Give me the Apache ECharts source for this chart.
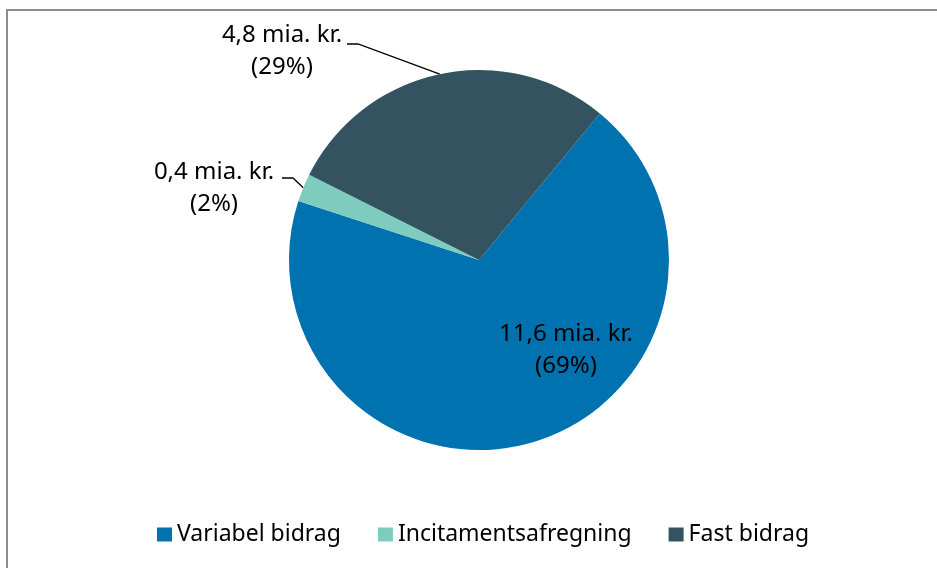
<!DOCTYPE html>
<html>
<head>
<meta charset="utf-8">
<script src="https://cdn.jsdelivr.net/npm/echarts@6/dist/echarts.min.js"></script>
<style>
html,body{margin:0;padding:0;background:#fff;}
#chart{width:937px;height:568px;}
</style>
</head>
<body>
<div id="chart"></div>
<script>
// Data
const categories = ['Variabel bidrag', 'Incitamentsafregning', 'Fast bidrag'];
const values = [11.6, 0.4, 4.8];
const colors = ['#0072B0', '#7ECCBD', '#32535F'];

// Label placement (annotation layout only)
const labelPlacement = [
  { x: 566, y: 350, line: null },
  { x: 214, y: 188, line: [[293, 178], [282, 178]] },
  { x: 282, y: 51, line: [[358, 44], [347, 44]] }
];

function fmtVal(v) { return v.toFixed(1).replace('.', ','); }

const chart = echarts.init(document.getElementById('chart'));
chart.setOption({
  backgroundColor: '#fff',
  animation: false,
  color: colors,
  graphic: [
    { type: 'line', shape: { x1: 6, y1: 10, x2: 937, y2: 10 }, style: { stroke: '#8C8C8C', lineWidth: 2 } },
    { type: 'line', shape: { x1: 7, y1: 9, x2: 7, y2: 568 }, style: { stroke: '#8C8C8C', lineWidth: 2 } }
  ],
  legend: {
    data: categories,
    left: 152,
    top: 518,
    icon: 'rect',
    itemWidth: 15,
    itemHeight: 14,
    itemGap: 37,
    textStyle: { fontFamily: '"Noto Sans", sans-serif', fontSize: 23, color: '#000' }
  },
  series: [{
    type: 'pie',
    center: [479, 260],
    radius: 190,
    startAngle: 50.5,
    clockwise: true,
    percentPrecision: 0,
    data: categories.map((c, i) => ({
      name: c,
      value: values[i],
      label: i === 0 ? { position: 'inside' } : { position: 'outside' },
      labelLine: { show: i !== 0 }
    })),
    label: {
      show: true,
      formatter: p => fmtVal(p.value) + ' mia. kr.\n(' + p.percent + '%)',
      fontFamily: '"Noto Sans", sans-serif',
      fontSize: 24,
      lineHeight: 32,
      color: '#000',
      align: 'center'
    },
    labelLine: {
      show: true,
      length: 10,
      length2: 10,
      lineStyle: { color: '#000', width: 1.3 }
    },
    labelLayout: function (params) {
      const pl = labelPlacement[params.dataIndex];
      const out = { x: pl.x, y: pl.y, align: 'center', verticalAlign: 'middle' };
      if (pl.line && params.labelLinePoints) {
        out.labelLinePoints = [params.labelLinePoints[0]].concat(pl.line);
      }
      return out;
    },
    itemStyle: { borderWidth: 0 },
    emphasis: { disabled: true }
  }]
});
</script>
</body>
</html>
